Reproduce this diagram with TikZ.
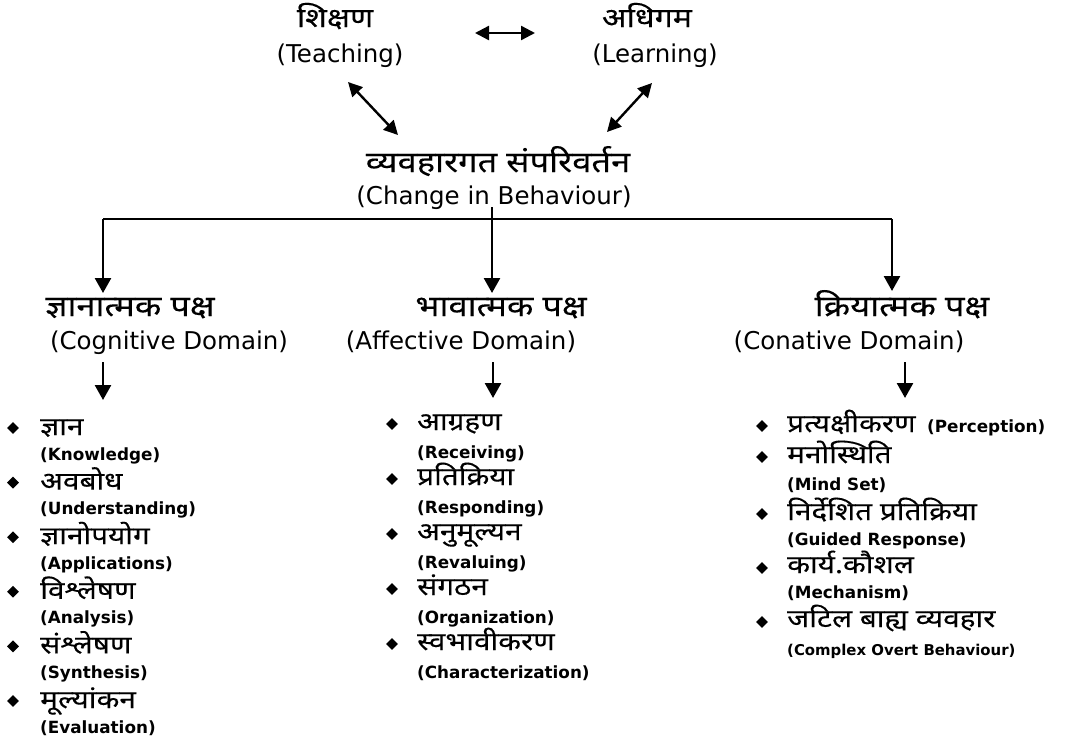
\documentclass[tikz,border=0pt]{standalone}
\usepackage{fontspec}
\setmainfont{DejaVu Sans}
\newfontfamily\hindi[Script=Devanagari,FakeStretch=1.19,FakeBold=0.15]{Noto Sans}
\usetikzlibrary{shapes.geometric,arrows.meta}

\tikzset{
  hin/.style={font=\hindi\fontsize{29}{29}\selectfont, inner sep=0pt, anchor=base},
  eng/.style={font=\fontsize{24.5}{24.5}\selectfont, inner sep=0pt, anchor=base},
  itemhin/.style={font=\hindi\fontsize{25}{25}\selectfont, inner sep=0pt, anchor=base west},
  itemeng/.style={font=\bfseries\fontsize{16.8}{16.8}\selectfont, inner sep=0pt, anchor=base west},
  dot/.style={diamond, fill, inner sep=0pt, minimum size=12pt},
  arr/.style={-{Triangle[length=15pt,width=16pt]}, line width=2.6pt},
  dblarr/.style={{Triangle[length=14pt,width=14pt]}-{Triangle[length=14pt,width=14pt]}, line width=2.4pt}
}

\begin{document}
\begin{tikzpicture}[x=1pt,y=-1pt]
  \useasboundingbox (0,0) rectangle (1068,742);

  % top row
  \node[hin, font=\hindi\fontsize{27}{27}\selectfont] (shik) at (335,27) {शिक्षण};
  \node[eng] (teach) at (340,62) {(Teaching)};
  \node[hin, font=\hindi\fontsize{27}{27}\selectfont] (adhi) at (647,27) {अधिगम};
  \node[eng] (learn) at (655,62) {(Learning)};
  \coordinate (ha) at (475,33);
  \coordinate (hb) at (535,33);
  \draw[dblarr] (ha) -- (hb);

  % change in behaviour
  \node[hin] (vyav) at (498,172) {व्यवहारगत संपरिवर्तन};
  \node[eng] (change) at (494,204) {(Change in Behaviour)};
  \coordinate (ta) at (348,82);
  \coordinate (tb) at (398,135);
  \coordinate (la) at (652,83);
  \coordinate (lb) at (607,132);
  \draw[dblarr] (ta) -- (tb);
  \draw[dblarr] (la) -- (lb);

  % three domains
  \node[hin] (jnana) at (130,316) {ज्ञानात्मक पक्ष};
  \node[eng] (cogn) at (169,349) {(Cognitive Domain)};
  \node[hin] (bhava) at (501,316) {भावात्मक पक्ष};
  \node[eng] (affe) at (461,349) {(Affective Domain)};
  \node[hin] (kriya) at (902,316) {क्रियात्मक पक्ष};
  \node[eng] (cona) at (849,349) {(Conative Domain)};

  \coordinate (top) at (492,207);
  \coordinate (left) at (103,219);
  \coordinate (mid) at (492,219);
  \coordinate (right) at (892,219);
  \draw[line width=2.4pt] (left) -- (right);
  \draw[arr] (top) -- (492,293);
  \draw[arr] (left) -- (103,293);
  \draw[arr] (right) -- (892,291);

  \coordinate (cogtop) at (103,362);
  \coordinate (affetop) at (493,362);
  \coordinate (conatop) at (905,362);
  \draw[arr] (cogtop) -- ++(0,38) coordinate (cogbot);
  \draw[arr] (affetop) -- ++(0,36) coordinate (affebot);
  \draw[arr] (conatop) -- ++(0,36) coordinate (conabot);

  % cognitive list
  \foreach \h/\e [count=\i] in {ज्ञान/Knowledge, अवबोध/Understanding,
      ज्ञानोपयोग/Applications, विश्लेषण/Analysis, संश्लेषण/Synthesis,
      मूल्यांकन/Evaluation} {
    \node[dot] (cogdot-\i) at (13,428+54.6*\i-54.6) {};
    \node[itemhin] (cog-\i) at (40,435+54.6*\i-54.6) {\h};
    \node[itemeng] (cogen-\i) at (40,460+54.6*\i-54.6) {(\e)};
  }

  % affective list
  \foreach \h/\e [count=\i] in {आग्रहण/Receiving, प्रतिक्रिया/Responding,
      अनुमूल्यन/Revaluing, संगठन/Organization, स्वभावीकरण/Characterization} {
    \node[dot] (affdot-\i) at (392,424+55*\i-55) {};
    \node[itemhin] (aff-\i) at (417,430+55*\i-55) {\h};
    \node[itemeng] (affen-\i) at (417,458+55*\i-55) {(\e)};
  }

  % conative list
  \node[dot] (condot-1) at (762,426) {};
  \node[itemhin] (con-1) at (787,432) {प्रत्यक्षीकरण};
  \node[itemeng] (conen-1) at (927,432) {(Perception)};
  \node[dot] (condot-2) at (762,457) {};
  \node[itemhin] (con-2) at (787,463) {मनोस्थिति};
  \node[itemeng] (conen-2) at (787,490) {(Mind Set)};
  \node[dot] (condot-3) at (762,514) {};
  \node[itemhin] (con-3) at (787,520) {निर्देशित प्रतिक्रिया};
  \node[itemeng] (conen-3) at (787,545) {(Guided Response)};
  \node[dot] (condot-4) at (762,568) {};
  \node[itemhin] (con-4) at (787,573) {कार्य.कौशल};
  \node[itemeng] (conen-4) at (787,598) {(Mechanism)};
  \node[dot] (condot-5) at (762,622) {};
  \node[itemhin] (con-5) at (787,627) {जटिल बाह्य व्यवहार};
  \node[itemeng, font=\bfseries\fontsize{14.9}{14.9}\selectfont] (conen-5) at (787,655) {(Complex Overt Behaviour)};
\end{tikzpicture}
\end{document}
